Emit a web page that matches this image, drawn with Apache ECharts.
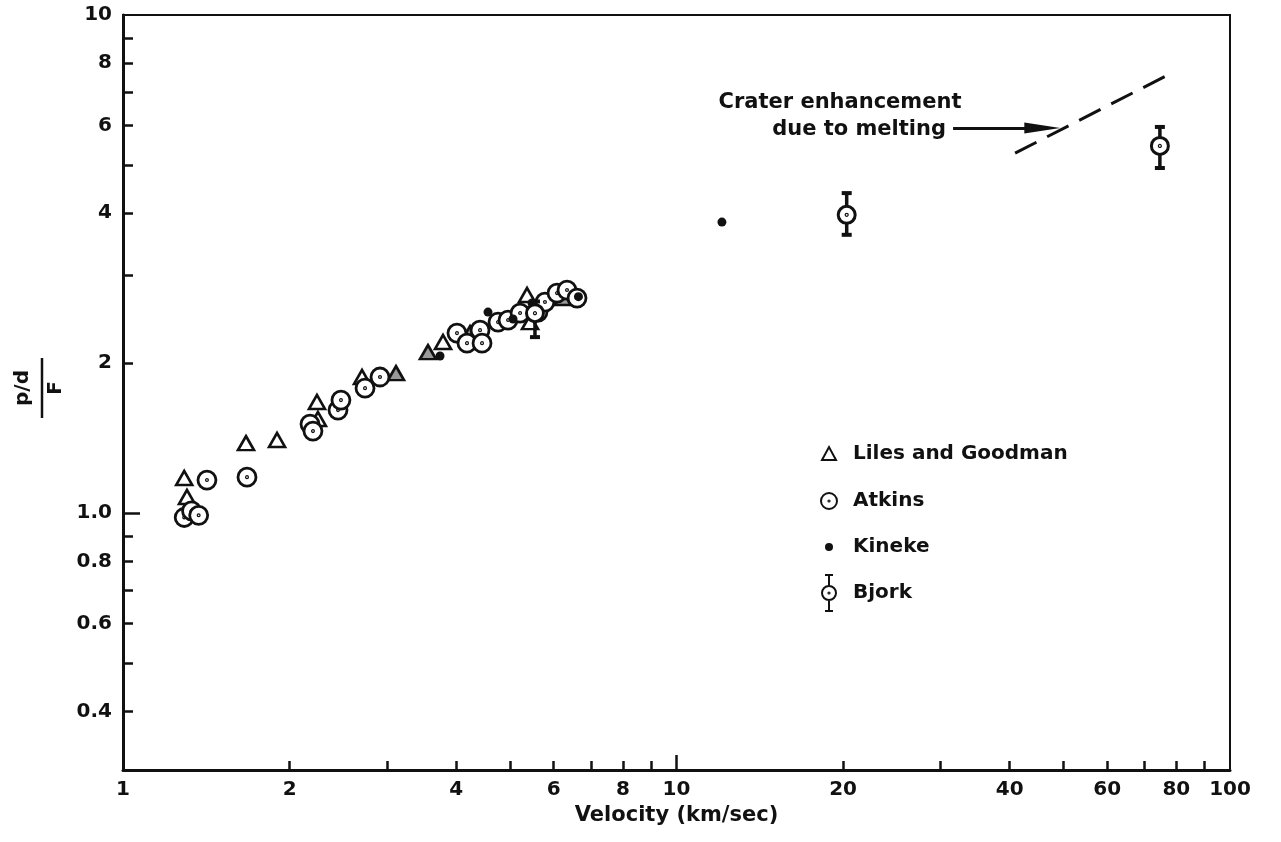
<!DOCTYPE html>
<html><head><meta charset="utf-8">
<script src="https://cdn.jsdelivr.net/npm/echarts@6/dist/echarts.min.js"></script>
<style>html,body{margin:0;padding:0;background:#fff}#c{width:1281px;height:842px}</style>
</head><body><div id="c"></div>
<script>
// ---- data (velocity km/sec, p/d / F) ----
const lilesOpen = [[1.29,1.176],[1.305,1.077],[1.668,1.382],[1.898,1.402],[2.241,1.671],[2.25,1.545],[2.703,1.876],[3.786,2.205],[5.37,2.74],[5.437,2.418]];
const lilesShaded = [[3.113,1.91],[3.556,2.105],[4.236,2.298],[6.236,2.702]];
const atkins = [[1.29,0.98],[1.33,1.01],[1.37,0.99],[1.418,1.165],[1.675,1.181],[2.177,1.509],[2.204,1.461],[2.446,1.61],[2.476,1.686],[2.737,1.782],[2.913,1.876],[4.012,2.298],[4.183,2.194],[4.416,2.33],[4.453,2.194],[4.759,2.418],[4.962,2.441],[5.216,2.521],[5.62,2.533],[5.786,2.653],[6.083,2.765],[6.341,2.804],[6.611,2.702]];
const kineke = [[3.739,2.067],[4.565,2.533],[5.066,2.453],[5.482,2.641],[6.65,2.72],[12.08,3.839]];
// x, y, low, high
const bjork = [[5.55,2.52,2.256,2.66],[20.3,3.97,3.62,4.39],[74.7,5.46,4.93,5.96]];
const meltLine = [[40.9,5.28],[78.5,7.65]];
const meltArrow = [[31.6,5.93],[45.8,5.93]];
const xTicks = [2,3,4,5,6,7,8,9,20,30,40,50,60,70,80,90];
const xLabels = [1,2,4,6,8,10,20,40,60,80,100];
const yTicks = [0.4,0.5,0.6,0.7,0.8,0.9,2,3,4,5,6,7,8,9];
const yLabels = [0.4,0.6,0.8,1,2,4,6,8,10];

const INK = '#111';
const FONT = 'DejaVu Sans';
const txt = {fontFamily: FONT, fontWeight: 'bold', fontSize: 20, color: INK};

const triIcon = 'path://M0,0M20,40M3,26L17,26L10,13Z';
const circIcon = 'path://M0,0M20,40M2,20A8,8 0 1,1 18,20A8,8 0 1,1 2,20ZM9.4,20A0.6,0.6 0 1,1 10.6,20A0.6,0.6 0 1,1 9.4,20Z';
const dotIcon = 'path://M0,0M20,40M6,20A4,4 0 1,1 14,20A4,4 0 1,1 6,20Z';
const bjorkIcon = 'path://M0,0M20,40M3,20A7,7 0 1,1 17,20A7,7 0 1,1 3,20ZM9.4,20A0.6,0.6 0 1,1 10.6,20A0.6,0.6 0 1,1 9.4,20ZM10,13L10,2M6,2L14,2M10,27L10,38M6,38L14,38';
const circSym = 'path://M0,10A10,10 0 1,1 20,10A10,10 0 1,1 0,10ZM9.3,10A0.7,0.7 0 1,1 10.7,10A0.7,0.7 0 1,1 9.3,10Z';

const gridRect = {left: 123, right: 51, top: 15, bottom: 72};

const chart = echarts.init(document.getElementById('c'), null, {renderer: 'canvas'});
chart.setOption({
  animation: false,
  backgroundColor: '#fff',
  grid: [
    Object.assign({show: true, borderColor: INK, borderWidth: 2, backgroundColor: 'transparent'}, gridRect),
    Object.assign({show: false}, gridRect)
  ],
  xAxis: [{
    type: 'log', logBase: 10, min: 1, max: 100, gridIndex: 0,
    axisLine: {lineStyle: {color: INK, width: 3}},
    axisTick: {inside: true, length: 9, lineStyle: {color: INK, width: 2.5}, customValues: xTicks},
    minorTick: {show: false}, splitLine: {show: false},
    axisLabel: Object.assign({customValues: xLabels, margin: 10, formatter: v => String(v)}, txt),
    name: 'Velocity (km/sec)', nameLocation: 'middle', nameGap: 34,
    nameTextStyle: Object.assign({}, txt, {fontSize: 21})
  }, {
    type: 'log', logBase: 10, min: 1, max: 100, gridIndex: 1,
    axisLine: {show: false},
    axisTick: {inside: true, length: 15, lineStyle: {color: INK, width: 2.5}, customValues: [10]},
    axisLabel: {show: false}, splitLine: {show: false}, minorTick: {show: false}
  }],
  yAxis: [{
    type: 'log', logBase: 10, min: 0.305, max: 10, gridIndex: 0,
    axisLine: {lineStyle: {color: INK, width: 3}},
    axisTick: {inside: true, length: 10, lineStyle: {color: INK, width: 2.5}, customValues: yTicks},
    minorTick: {show: false}, splitLine: {show: false},
    axisLabel: Object.assign({customValues: yLabels, margin: 11, formatter: v => (v === 1 ? '1.0' : String(v))}, txt)
  }, {
    type: 'log', logBase: 10, min: 0.305, max: 10, gridIndex: 1,
    axisLine: {show: false},
    axisTick: {inside: true, length: 17, lineStyle: {color: INK, width: 2.5}, customValues: [1]},
    axisLabel: {show: false}, splitLine: {show: false}, minorTick: {show: false}
  }],
  legend: {
    orient: 'vertical', left: 813, top: 428, itemWidth: 20, itemHeight: 40, itemGap: 5,
    selectedMode: false,
    textStyle: Object.assign({padding: [0, 0, 0, 9]}, txt),
    data: [
      {name: 'Liles and Goodman', icon: triIcon},
      {name: 'Atkins', icon: circIcon},
      {name: 'Kineke', icon: dotIcon},
      {name: 'Bjork', icon: bjorkIcon}
    ]
  },
  graphic: [
    {type: 'group', x: 42, y: 388, rotation: Math.PI / 2, children: [
      {type: 'text', x: 0, y: -9, style: {text: 'p/d', fontFamily: FONT, fontWeight: 'bold', fontSize: 20, fill: INK, align: 'center', verticalAlign: 'bottom'}},
      {type: 'line', shape: {x1: -30, y1: 0, x2: 30, y2: 0}, style: {stroke: INK, lineWidth: 2.5}},
      {type: 'text', x: 0, y: 4, style: {text: 'F', fontFamily: FONT, fontWeight: 'bold', fontSize: 20, fill: INK, align: 'center', verticalAlign: 'top'}}
    ]},
    {type: 'text', x: 840, y: 103, style: {text: 'Crater enhancement', fontFamily: FONT, fontWeight: 'bold', fontSize: 21, fill: INK, align: 'center', verticalAlign: 'middle'}},
    {type: 'text', x: 946, y: 130, style: {text: 'due to melting', fontFamily: FONT, fontWeight: 'bold', fontSize: 21, fill: INK, align: 'right', verticalAlign: 'middle'}}
  ],
  series: [
    {type: 'line', name: 'melt', data: meltLine, symbol: 'none', silent: true, z: 2,
     lineStyle: {color: INK, width: 3, type: [24, 12]},
     markLine: {silent: true, symbol: ['none', 'triangle'], symbolSize: [11, 36], animation: false,
       lineStyle: {color: INK, width: 3, type: 'solid'}, label: {show: false},
       itemStyle: {color: INK},
       data: [[{coord: meltArrow[0]}, {coord: meltArrow[1]}]]}},
    {type: 'scatter', name: 'Liles and Goodman', data: lilesOpen, symbol: 'triangle', symbolSize: [16, 14], z: 4,
     itemStyle: {color: '#fff', borderColor: INK, borderWidth: 2.6, opacity: 1}},
    {type: 'scatter', name: 'Liles and Goodman', data: lilesShaded, symbol: 'triangle', symbolSize: [16, 14], z: 4,
     itemStyle: {color: '#999', borderColor: INK, borderWidth: 2.6, opacity: 1}},
    {type: 'scatter', name: 'Atkins', data: atkins, symbol: circSym, symbolSize: 18, z: 5,
     itemStyle: {color: '#fff', borderColor: INK, borderWidth: 2.8, opacity: 1}},
    {type: 'scatter', name: 'Kineke', data: kineke, symbol: 'circle', symbolSize: 9, z: 6,
     itemStyle: {color: INK, opacity: 1}},
    {type: 'custom', name: 'Bjork range', data: bjork, z: 6, silent: true,
     encode: {x: 0, y: 1},
     renderItem: function (params, api) {
       const x = api.value(0);
       const lo = api.coord([x, api.value(2)]);
       const hi = api.coord([x, api.value(3)]);
       return {type: 'group', children: [
         {type: 'line', shape: {x1: lo[0], y1: lo[1], x2: hi[0], y2: hi[1]}, style: {stroke: INK, lineWidth: 3.5}},
         {type: 'line', shape: {x1: lo[0] - 5, y1: lo[1], x2: lo[0] + 5, y2: lo[1]}, style: {stroke: INK, lineWidth: 4}},
         {type: 'line', shape: {x1: hi[0] - 5, y1: hi[1], x2: hi[0] + 5, y2: hi[1]}, style: {stroke: INK, lineWidth: 4}}
       ]};
     }},
    {type: 'scatter', name: 'Bjork', data: bjork, symbol: circSym, symbolSize: 17, z: 7,
     encode: {x: 0, y: 1},
     itemStyle: {color: '#fff', borderColor: INK, borderWidth: 3, opacity: 1}}
  ]
});
</script>
</body></html>
